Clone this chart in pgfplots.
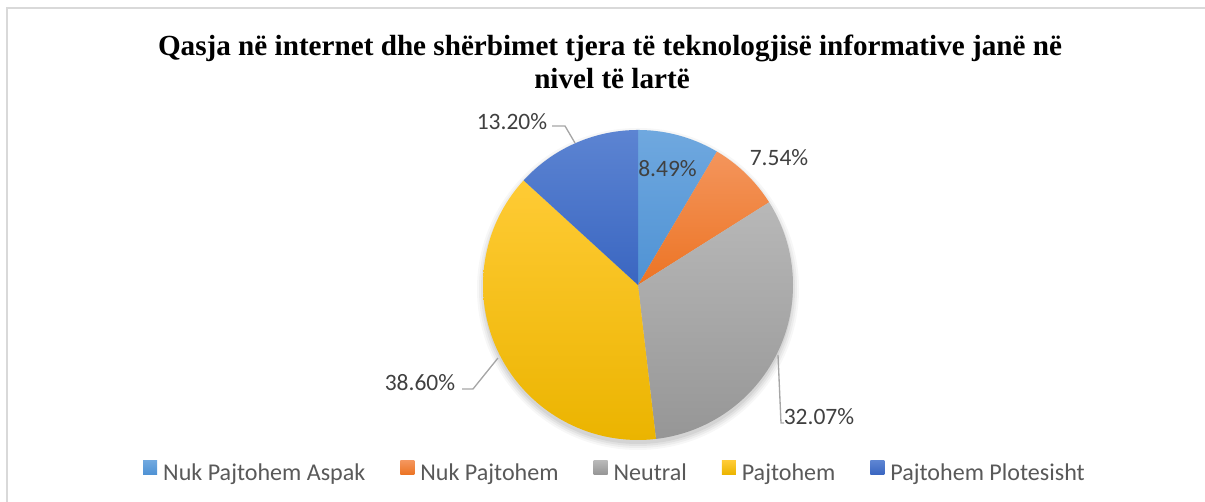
\documentclass[border=0pt]{standalone}
\usepackage{pgfplots}
\pgfplotsset{compat=1.18}
\usepackage{fontspec}
\setmainfont{Carlito}
\newfontfamily\titlefont{Liberation Serif}
\definecolor{c1t}{HTML}{6FA8DF}\definecolor{c1b}{HTML}{4F92D4}
\definecolor{c2t}{HTML}{F4955C}\definecolor{c2b}{HTML}{EC7424}
\definecolor{c3t}{HTML}{B8B8B8}\definecolor{c3b}{HTML}{969696}
\definecolor{c4t}{HTML}{FFCB35}\definecolor{c4b}{HTML}{EBB400}
\definecolor{c5t}{HTML}{5C84D2}\definecolor{c5b}{HTML}{3A66C1}
\definecolor{lbl}{HTML}{404040}
\definecolor{leg}{HTML}{595959}
\definecolor{lead}{HTML}{A6A6A6}
\begin{document}
\begin{tikzpicture}
\begin{axis}[
  scale only axis, width=723pt, height=301.2pt,
  xmin=0, xmax=1205, ymin=0, ymax=502,
  hide axis, clip=false,
  legend columns=5,
  legend style={draw=none, fill=none, at={(axis cs:614,30)}, anchor=center,
    font=\fontsize{14.45pt}{16pt}\selectfont\color{leg},
    nodes={inner sep=0pt},
    /tikz/every odd column/.append style={column sep=3.6pt},
    /tikz/every even column/.append style={column sep=21pt}},
  legend image code/.code={\path[#1] (0pt,-0.5pt) rectangle (8.4pt,7.6pt);},
]
% border (left and top)
\draw[color=black!15, line width=1.2pt] (axis cs:7,-2) -- (axis cs:7,494) -- (axis cs:1207,494);
% soft shadow
\fill[black, opacity=0.03] (axis cs:638,213) circle[radius=96.6pt];
\fill[black, opacity=0.04] (axis cs:638,213) circle[radius=95.4pt];
\fill[black, opacity=0.05] (axis cs:638,213) circle[radius=94.2pt];
\fill[black, opacity=0.06] (axis cs:638,213) circle[radius=93pt];
% wedges (values in %)
\addplot[forget plot, draw=none, top color=c1t, bottom color=c1b, domain={90-360/99.9*8.49}:{90}, samples=60]
  ({638+155*cos(x)},{217+155*sin(x)}) -- (axis cs:638,217) -- cycle;
\addplot[forget plot, draw=none, top color=c2t, bottom color=c2b, domain={90-360/99.9*16.03}:{90-360/99.9*8.49}, samples=60]
  ({638+155*cos(x)},{217+155*sin(x)}) -- (axis cs:638,217) -- cycle;
\addplot[forget plot, draw=none, top color=c3t, bottom color=c3b, domain={90-360/99.9*48.10}:{90-360/99.9*16.03}, samples=80]
  ({638+155*cos(x)},{217+155*sin(x)}) -- (axis cs:638,217) -- cycle;
\addplot[forget plot, draw=none, top color=c4t, bottom color=c4b, domain={90-360/99.9*86.70}:{90-360/99.9*48.10}, samples=80]
  ({638+155*cos(x)},{217+155*sin(x)}) -- (axis cs:638,217) -- cycle;
\addplot[forget plot, draw=none, top color=c5t, bottom color=c5b, domain={90-360/99.9*99.90}:{90-360/99.9*86.70}, samples=60]
  ({638+155*cos(x)},{217+155*sin(x)}) -- (axis cs:638,217) -- cycle;
% leader lines
\draw[lead, line width=0.8pt] (axis cs:552,376) -- (axis cs:565,376) -- (axis cs:575,359);
\draw[lead, line width=0.8pt] (axis cs:462,113) -- (axis cs:473,113) -- (axis cs:498,144);
\draw[lead, line width=0.8pt] (axis cs:778,147) -- (axis cs:781,79) -- (axis cs:784,79);
% data labels
\begin{scope}[every node/.style={font=\fontsize{14.1pt}{16pt}\selectfont, text=lbl, inner sep=0pt}]
\node at (axis cs:667.5,333) {8.49\%};
\node at (axis cs:779,344) {7.54\%};
\node at (axis cs:512,380) {13.20\%};
\node at (axis cs:420,119) {38.60\%};
\node at (axis cs:819,85) {32.07\%};
\end{scope}
% title
\node[anchor=base, inner sep=0pt, font=\titlefont\bfseries\fontsize{17.5pt}{20pt}\selectfont] at (axis cs:610,446)
  {Qasja në internet dhe shërbimet tjera të teknologjisë informative janë në};
\node[anchor=base, inner sep=0pt, font=\titlefont\bfseries\fontsize{17.5pt}{20pt}\selectfont] at (axis cs:612,413)
  {nivel të lartë};
% legend
\addlegendimage{top color=c1t, bottom color=c1b, draw=none}
\addlegendentry{Nuk Pajtohem Aspak}
\addlegendimage{top color=c2t, bottom color=c2b, draw=none}
\addlegendentry{Nuk Pajtohem}
\addlegendimage{top color=c3t, bottom color=c3b, draw=none}
\addlegendentry{Neutral}
\addlegendimage{top color=c4t, bottom color=c4b, draw=none}
\addlegendentry{Pajtohem}
\addlegendimage{top color=c5t, bottom color=c5b, draw=none}
\addlegendentry{Pajtohem Plotesisht}
\end{axis}
\pgfresetboundingbox
\useasboundingbox (0,0) rectangle (723pt,301.2pt);
\end{tikzpicture}
\end{document}
